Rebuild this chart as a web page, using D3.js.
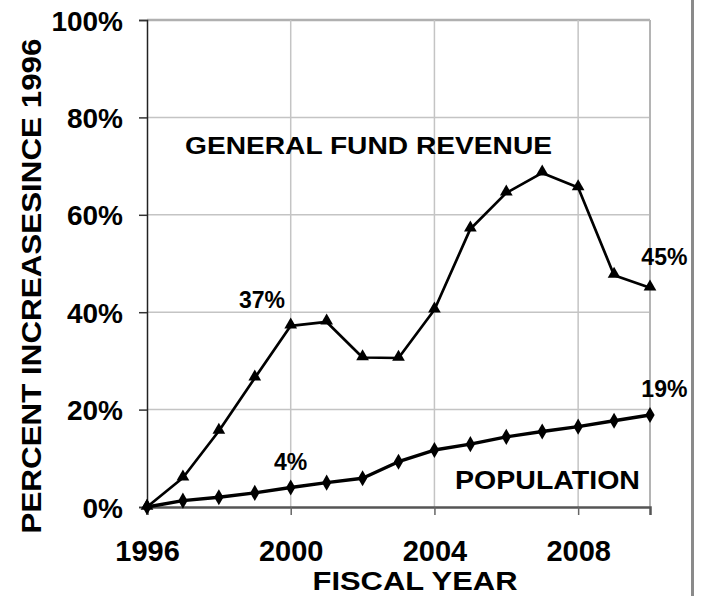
<!DOCTYPE html>
<html>
<head>
<meta charset="utf-8">
<script src="https://cdn.jsdelivr.net/npm/d3@7"></script>
<style>
  html, body { margin: 0; padding: 0; background: #fff; }
  svg { display: block; }
  text { font-family: "Liberation Sans", Arial, Helvetica, sans-serif; font-weight: bold; fill: #000; }
</style>
</head>
<body>
<script>
const years = [1996,1997,1998,1999,2000,2001,2002,2003,2004,2005,2006,2007,2008,2009,2010];
const revenue = [0, 6.0, 15.6, 26.5, 37.2, 38.0, 30.7, 30.6, 40.5, 57.1, 64.5, 68.6, 65.6, 47.6, 45.0];
const population = [0, 1.3, 2.0, 2.9, 4.0, 5.0, 5.9, 9.3, 11.7, 12.9, 14.4, 15.5, 16.5, 17.7, 18.9];
const yTicks = [0, 20, 40, 60, 80, 100];
const xTickYears = [1996, 2000, 2004, 2008];
const annotations = [
  {text: "37%", year: 1999.2, value: 37},
  {text: "45%", year: 2010.4, value: 45},
  {text: "19%", year: 2010.4, value: 19},
  {text: "4%", year: 2000, value: 4}
];

const W = 702, H = 596;
const svg = d3.select("body").append("svg").attr("width", W).attr("height", H);

const x = d3.scaleLinear().domain([1996, 2010]).range([147, 650]);
const y = d3.scaleLinear().domain([0, 100]).range([507, 20]);

// right gray frame line
svg.append("line").attr("x1", 692.5).attr("x2", 692.5).attr("y1", 0).attr("y2", H)
  .attr("stroke", "#8a8a8a").attr("stroke-width", 3);

// gridlines
const grid = svg.append("g");
grid.selectAll(".hg").data(yTicks.filter(d => d > 0)).join("line")
  .attr("x1", x(1996)).attr("x2", x(2010))
  .attr("y1", d => y(d)).attr("y2", d => y(d))
  .attr("stroke", d => d === 100 ? "#b0b0b0" : "#c4c4c4")
  .attr("stroke-width", d => d === 100 ? 2.5 : 1.5);
grid.selectAll(".vg").data(xTickYears.filter(d => d > 1996).concat([2010])).join("line")
  .attr("x1", d => x(d)).attr("x2", d => x(d))
  .attr("y1", y(100)).attr("y2", y(0))
  .attr("stroke", d => d === 2010 ? "#b4b4b4" : "#c4c4c4")
  .attr("stroke-width", d => d === 2010 ? 2 : 1.5);

// axes
const yAxis = d3.axisLeft(y).tickValues(yTicks).tickSize(8).tickFormat(d => d + "%");
const gy = svg.append("g").attr("transform", `translate(${x(1996)},0)`).call(yAxis);
gy.select(".domain").attr("stroke", "#222").attr("stroke-width", 1.5);
gy.selectAll(".tick line").attr("stroke", "#333").attr("stroke-width", 1.5);
gy.selectAll(".tick text").attr("x", -24).attr("dy", "0.36em")
  .style("font-size", "28px").style("font-family", "'Liberation Sans', Arial, sans-serif").style("font-weight", "bold").attr("fill", "#000");

const xAxis = d3.axisBottom(x).tickValues(xTickYears).tickSize(8).tickFormat(d3.format("d"));
const gx = svg.append("g").attr("transform", `translate(0,${y(0)})`).call(xAxis);
gx.select(".domain").attr("stroke", "#555").attr("stroke-width", 2.5);
gx.selectAll(".tick line").attr("stroke", "#666").attr("stroke-width", 1.5);
gx.selectAll(".tick text").attr("y", 54).attr("dy", 0)
  .style("font-size", "29px").style("font-family", "'Liberation Sans', Arial, sans-serif").style("font-weight", "bold").attr("fill", "#000");

// axis titles
svg.append("text").attr("x", 415).attr("y", 590).attr("text-anchor", "middle")
  .style("font-size", "25px").attr("textLength", 205).attr("lengthAdjust", "spacingAndGlyphs")
  .text("FISCAL YEAR");
svg.append("text").attr("transform", "translate(41,286) rotate(-90)").attr("text-anchor", "middle")
  .style("font-size", "28px").attr("textLength", 495).attr("lengthAdjust", "spacingAndGlyphs")
  .text("PERCENT INCREASESINCE 1996");

// lines
const line = d3.line().x((d, i) => x(years[i])).y(d => y(d));
svg.append("path").datum(population).attr("d", line)
  .attr("fill", "none").attr("stroke", "#000").attr("stroke-width", 3.4).attr("stroke-linejoin", "round");
svg.append("path").datum(revenue).attr("d", line)
  .attr("fill", "none").attr("stroke", "#000").attr("stroke-width", 2.7).attr("stroke-linejoin", "round");

// markers
const diamond = d3.symbol().type(d3.symbolDiamond).size(75);
svg.append("g").selectAll("path").data(population).join("path")
  .attr("d", diamond).attr("transform", (d, i) => `translate(${x(years[i])},${y(d)})`).attr("fill", "#000");
const tri = d3.symbol().type(d3.symbolTriangle).size(70);
svg.append("g").selectAll("path").data(revenue).join("path")
  .attr("d", tri).attr("transform", (d, i) => `translate(${x(years[i])},${y(d) - 1})`).attr("fill", "#000");

// series labels
svg.append("text").attr("x", 368.5).attr("y", 154).attr("text-anchor", "middle")
  .style("font-size", "23px").attr("textLength", 367).attr("lengthAdjust", "spacingAndGlyphs")
  .text("GENERAL FUND REVENUE");
svg.append("text").attr("x", 547.5).attr("y", 489).attr("text-anchor", "middle")
  .style("font-size", "26px").attr("textLength", 185).attr("lengthAdjust", "spacingAndGlyphs")
  .text("POPULATION");

// value annotations
const annY = {"37%": 308, "45%": 265, "19%": 397, "4%": 470};
svg.append("g").selectAll("text").data(annotations).join("text")
  .attr("x", d => x(d.year)).attr("y", d => annY[d.text])
  .attr("text-anchor", "middle").style("font-size", "23px")
  .text(d => d.text);
</script>
</body>
</html>
